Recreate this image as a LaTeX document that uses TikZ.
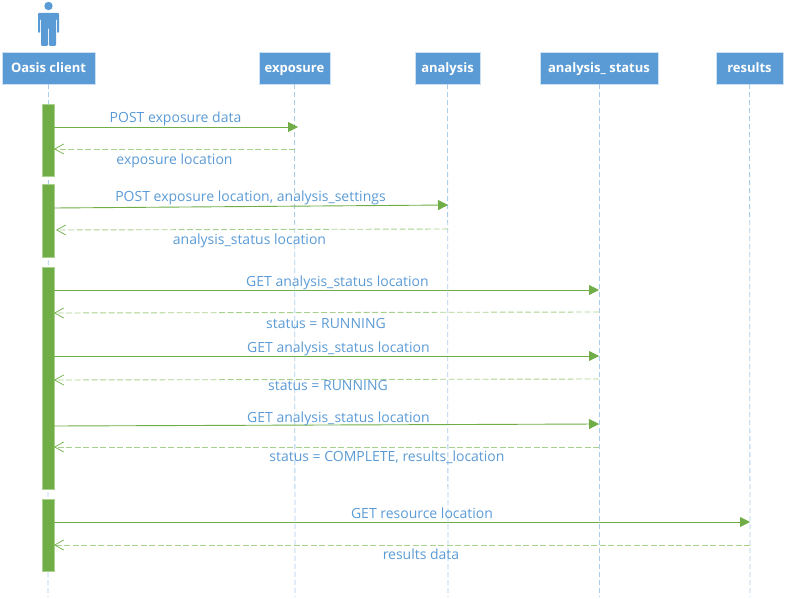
\documentclass[tikz,border=0pt]{standalone}
\usepackage{fontspec}
\setmainfont{Open Sans}
\usetikzlibrary{arrows.meta}
\definecolor{boxblue}{HTML}{5B9BD5}
\definecolor{lineblue}{HTML}{A9CCEB}
\definecolor{bargreen}{HTML}{70AD47}
\definecolor{retgreen}{HTML}{A9D18E}
\begin{document}
\begin{tikzpicture}[
x=1pt, y=-1pt,
headbox/.style={rectangle, fill=boxblue, draw=lineblue!60, text=white, font=\fontsize{13pt}{14pt}\selectfont\bfseries, minimum height=32pt, inner sep=0pt, text height=12pt, text depth=2.6pt},
lifeline/.style={draw=lineblue, dashed, dash pattern=on 5pt off 3pt, line width=0.8pt},
activebar/.style={rectangle, fill=bargreen, draw=retgreen, line width=0.5pt, minimum width=12pt, inner sep=0pt},
callline/.style={draw=bargreen, line width=0.9pt, -{Triangle[length=10pt,width=10pt,fill=bargreen]}},
retline/.style={draw=retgreen, line width=0.9pt, dashed, dash pattern=on 6pt off 2.5pt, -{Straight Barb[length=9pt,width=10pt,color=bargreen,line width=0.7pt]}},
msglabel/.style={text=boxblue, font=\fontsize{14pt}{15pt}\selectfont, inner sep=0pt, text height=14pt, text depth=3pt}
]
    \useasboundingbox (0,0) rectangle (785,599);

    % actor
    \fill [boxblue] (48.5,6) circle (4.2);
    \fill [boxblue, rounded corners=1pt] (38,13) -- (59,13) -- (59,33) -- (57,33) -- (57,19) -- (56,19) -- (56,46) -- (49,46) -- (49,28) -- (48,28) -- (48,46) -- (41,46) -- (41,19) -- (40,19) -- (40,33) -- (38,33) -- cycle;

    \node [headbox, minimum width=93pt] (client) at (48.5,68) {Oasis client};
    \node [headbox, minimum width=71pt] (exposure) at (294.5,68) {exposure};
    \node [headbox, minimum width=65pt] (analysis) at (447.5,68) {analysis};
    \node [headbox, minimum width=118pt] (status) at (599,68) {analysis\_ status};
    \node [headbox, minimum width=67pt] (results) at (749.5,68) {results};

    \coordinate (clientend) at (48,597);
    \coordinate (exposureend) at (295,597);
    \coordinate (analysisend) at (448,597);
    \coordinate (statusend) at (599,597);
    \coordinate (resultsend) at (750,597);

    \draw [lifeline] (client) -- (clientend);
    \draw [lifeline] (exposure) -- (exposureend);
    \draw [lifeline] (analysis) -- (analysisend);
    \draw [lifeline] (status) -- (statusend);
    \draw [lifeline] (results) -- (resultsend);

    \node [activebar, minimum height=72pt] (bar1) at (48,140) {};
    \node [activebar, minimum height=73pt] (bar2) at (48,220.5) {};
    \node [activebar, minimum height=222pt] (bar3) at (48,378) {};
    \node [activebar, minimum height=72pt] (bar4) at (48,535) {};

    % start and end points of the messages
    \coordinate (a1) at (54,127);  \coordinate (a2) at (298,127);
    \coordinate (a3) at (295,149); \coordinate (a4) at (54,149);
    \coordinate (b1) at (54,208);  \coordinate (b2) at (448,205);
    \coordinate (b3) at (448,229); \coordinate (b4) at (56,230);
    \coordinate (c1) at (54,290);  \coordinate (c2) at (599,290);
    \coordinate (c3) at (599,312); \coordinate (c4) at (54,313);
    \coordinate (d1) at (54,356);  \coordinate (d2) at (599,356);
    \coordinate (d3) at (599,379); \coordinate (d4) at (54,380);
    \coordinate (e1) at (54,426);  \coordinate (e2) at (599,424);
    \coordinate (e3) at (599,447); \coordinate (e4) at (54,447);
    \coordinate (f1) at (54,522);  \coordinate (f2) at (750,522);
    \coordinate (f3) at (750,545); \coordinate (f4) at (54,545);

    \draw [callline] (a1) -- (a2);
    \draw [retline] (a3) -- (a4);
    \draw [callline] (b1) -- (b2);
    \draw [retline] (b3) -- (b4);
    \draw [callline] (c1) -- (c2);
    \draw [retline] (c3) -- (c4);
    \draw [callline] (d1) -- (d2);
    \draw [retline] (d3) -- (d4);
    \draw [callline] (e1) -- (e2);
    \draw [retline] (e3) -- (e4);
    \draw [callline] (f1) -- (f2);
    \draw [retline] (f3) -- (f4);

    \node [msglabel] (la1) at (175.5,117) {POST exposure data};
    \node [msglabel] (la2) at (174.5,159) {exposure location};
    \node [msglabel] (lb1) at (250.5,196) {POST exposure location, analysis\_settings};
    \node [msglabel] (lb2) at (249.5,239) {analysis\_status location};
    \node [msglabel] (lc1) at (337.5,281) {GET analysis\_status location};
    \node [msglabel] (lc2) at (326,323) {status = RUNNING};
    \node [msglabel] (ld1) at (338.5,347) {GET analysis\_status location};
    \node [msglabel] (ld2) at (328,385) {status = RUNNING};
    \node [msglabel] (le1) at (338.5,417) {GET analysis\_status location};
    \node [msglabel] (le2) at (387,456) {status = COMPLETE, results\_location};
    \node [msglabel] (lf1) at (422,513) {GET resource location};
    \node [msglabel] (lf2) at (421,554) {results data};
\end{tikzpicture}
\end{document}
